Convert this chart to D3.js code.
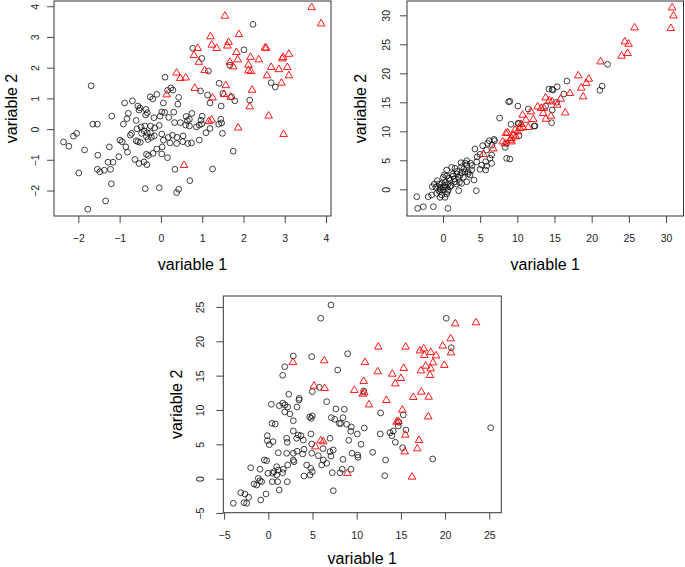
<!DOCTYPE html>
<html>
<head>
<meta charset="utf-8">
<script src="https://cdn.jsdelivr.net/npm/d3@7"></script>
<style>
  body { margin: 0; background: #fff; }
  text { font-family: "Liberation Sans", Arial, Helvetica, sans-serif; }
</style>
</head>
<body>
<div id="chart"></div>
<script>
// panel 1 : groupe noir (cercles) et groupe rouge (triangles)
const p1Red = [
  [3.65,3.96],[3.88,3.43],[1.55,3.68],[1.89,3.08],[1.20,3.01],[1.23,2.74],[1.35,2.63],[1.64,2.83],
  [1.61,2.71],[0.89,2.63],[0.80,2.40],[0.92,2.18],[1.83,2.50],[1.86,2.26],[1.67,2.18],[1.75,2.03],
  [2.17,2.34],[2.37,2.26],[2.52,2.64],[2.55,2.64],[2.12,2.09],[2.12,1.90],[2.18,1.88],[1.06,1.91],
  [0.38,1.83],[0.47,1.65],[0.60,1.67],[2.67,2.01],[2.86,1.94],[2.94,2.29],[2.96,2.34],[3.10,2.44],
  [3.06,2.01],[3.10,1.74],[2.57,1.74],[2.92,1.50],[0.82,1.33],[1.57,1.42],[2.21,1.27],[1.25,1.02],
  [1.53,1.13],[1.69,1.04],[2.15,0.73],[2.61,0.43],[1.23,0.30],[1.16,0.25],[1.87,0.04],[2.97,-0.17],
  [0.56,-1.18],[0.14,1.12]
];
const p1Black = [
  [0.10,1.69],[-1.69,1.41],[0.24,1.34],[0.16,1.26],[0.29,1.27],[0.43,1.03],[-0.26,1.05],[-0.20,0.98],
  [-0.10,1.13],[-0.69,0.92],[-0.88,0.85],[0.06,0.85],[-0.56,0.75],[-0.51,0.69],[-0.53,0.62],[-0.79,0.51],
  [-1.19,0.42],[-0.36,0.64],[-0.37,0.46],[-0.33,0.53],[-0.17,0.37],[-0.82,0.34],[-0.91,0.16],[-0.60,0.28],
  [0.02,0.56],[0.09,0.54],[0.19,0.38],[0.31,0.55],[-0.02,0.42],[-0.04,0.12],[-0.15,0.04],[-0.25,0.10],
  [-0.39,0.10],[-0.48,0.07],[-0.58,0.01],[-0.41,-0.06],[-0.47,-0.14],[-0.33,-0.12],[-0.35,-0.25],[-0.25,-0.12],
  [-0.23,-0.27],[-0.16,-0.22],[-0.31,-0.34],[-0.71,-0.14],[-0.74,-0.20],[-0.99,-0.36],[-0.94,-0.41],[-0.85,-0.58],
  [-0.81,-0.75],[-1.02,-0.90],[-0.60,-0.38],[-0.56,-0.41],[-0.50,-0.43],[0.02,-0.16],[0.06,-0.36],[0.18,-0.27],
  [0.28,-0.20],[0.39,-0.27],[0.38,-0.47],[0.22,-0.45],[0.03,-0.58],[-0.10,-0.65],[-0.19,-0.79],[-0.30,-0.86],
  [-0.35,-0.82],[0.02,-0.81],[0.16,-0.93],[-0.34,-1.16],[-0.63,-0.99],[-0.53,-1.12],[-0.41,-1.07],[-1.25,-0.58],
  [-1.53,-0.85],[-1.85,-0.68],[-1.16,-1.08],[-1.28,-1.08],[-1.22,-1.31],[-1.54,-1.31],[-1.48,-1.39],[-1.37,-1.34],
  [-1.99,-1.43],[-1.65,0.16],[-1.54,0.16],[-2.12,-0.23],[-2.04,-0.14],[-2.36,-0.42],[-2.23,-0.56],[-1.20,-1.78],
  [-1.34,-2.34],[-1.77,-2.61],[-0.38,-1.94],[-0.04,-1.91],[0.34,-1.31],[0.38,-2.07],[0.43,-1.96],
  [2.23,3.41],[0.77,2.63],[0.99,2.30],[1.15,1.89],[1.67,2.08],[2.01,2.58],[1.41,1.49],[0.96,1.24],
  [1.13,1.11],[1.50,1.16],[1.71,1.05],[1.79,0.92],[1.19,0.85],[1.46,0.75],[2.15,0.94],[2.67,1.51],
  [2.77,1.37],[0.41,0.81],[0.61,0.41],[0.75,0.51],[0.69,0.32],[0.64,0.27],[1.00,0.42],[0.97,0.29],
  [0.33,0.21],[0.47,0.21],[0.60,0.13],[0.69,0.10],[0.86,0.07],[0.93,0.13],[0.99,0.17],[1.45,0.32],
  [1.47,0.20],[1.40,0.16],[1.19,0.02],[1.09,-0.12],[1.49,-0.14],[0.54,-0.22],[0.53,-0.41],[0.65,-0.47],
  [0.74,-0.45],[0.93,-0.36],[1.75,-0.72],[1.25,-1.30],[0.70,-1.68]
];

// panel 2
const p2Red = [
  [30.82,31.31],[31.0,29.93],[30.65,27.76],[25.77,27.86],[24.46,25.45],[24.96,25.05],[24.02,22.98],[24.83,23.45],
  [21.20,22.0],[18.19,19.59],[19.62,19.02],[19.26,18.28],[18.59,17.47],[18.86,15.97],[17.07,16.55],[16.44,13.21],
  [15.82,15.57],[13.80,15.79],[14.29,15.28],[14.69,15.10],[15.36,14.53],[12.73,14.24],[13.21,13.97],[13.58,13.97],
  [11.83,13.38],[10.71,12.81],[11.16,11.95],[12.14,12.07],[13.48,13.10],[13.84,12.12],[14.52,12.64],[10.79,10.62],
  [10.04,9.93],[9.45,9.36],[9.23,8.21],[10.48,11.21],[11.47,10.69],[9.81,9.07],[5.42,6.03],[6.76,7.0],
  [8.02,8.21],[8.70,9.76],[9.23,8.79],[9.68,10.22],[10.35,10.52],[9.0,8.5],[8.47,9.66],[8.33,7.86]
];
const p2Black = [
  [22.14,21.55],[16.67,18.67],[14.69,17.24],[14.25,17.29],[15.36,17.69],[14.78,17.12],[21.10,17.07],[21.41,17.81],
  [16.26,16.43],[15.28,15.0],[14.69,13.67],[13.80,14.36],[14.61,11.48],[12.27,10.91],[11.47,13.84],[10.08,14.36],
  [9.0,15.17],[10.17,11.31],[10.22,9.24],[9.0,5.22],[8.83,15.10],[7.62,12.29],[9.14,11.21],[10.12,11.38],
  [12.37,10.91],[6.22,8.38],[6.01,7.93],[6.95,8.38],[6.59,7.64],[8.56,7.93],[8.37,7.24],[4.30,6.95],
  [5.34,7.52],[5.87,6.78],[4.97,6.03],[6.55,5.91],[6.32,5.34],[8.56,5.34],[5.74,4.76],[4.53,4.76],
  [6.55,4.48],[3.19,4.93],[2.42,4.59],[3.72,4.48],[5.20,4.19],[5.87,4.02],[4.97,3.45],[5.74,3.33],
  [3.86,3.33],[3.40,3.03],[2.96,3.03],[2.51,2.86],[1.84,2.64],[1.17,3.79],[0.50,3.33],[1.38,2.29],
  [2.06,2.07],[2.73,2.07],[3.63,2.47],[4.17,1.60],[3.19,1.31],[2.51,1.03],[1.61,1.31],[0.94,1.60],
  [0.50,2.29],[0.04,2.07],[-0.77,1.48],[-0.17,1.03],[0.27,0.74],[0.71,0.91],[0.94,0.45],[0.50,0.34],
  [0.04,0.45],[-0.40,0.34],[-0.94,0.34],[-1.44,0.45],[-1.17,0.91],[-0.50,0.91],[0.04,-0.12],[0.71,-0.12],
  [-0.40,-0.41],[-0.85,-0.69],[-0.17,-0.98],[0.50,-0.81],[0.27,-1.38],[-0.40,-1.38],[2.11,-0.24],[4.48,-0.24],
  [-1.52,-0.98],[-1.98,-1.28],[-3.53,-1.28],[-1.30,-3.0],[-2.65,-3.0],[-3.40,-3.28],[0.67,-3.28],[1.61,3.62],
  [2.51,3.90],[3.19,4.19],[6.85,8.62],
  [0.3,1.2],[0.8,1.9],[1.3,2.6],[1.9,3.1],[2.3,2.4],[1.1,0.6],[-0.3,0.0],[0.6,-0.4],
  [1.5,1.8],[2.8,3.5],[3.4,2.7],[3.9,4.1],[4.6,5.6],[2.2,1.2],[0.2,2.5],[-0.6,-0.2],
  [1.8,0.9],[3.0,4.5]
];

// panel 3
const p3Red = [
  [2.79,16.94],[6.33,17.18],[5.17,13.49],[6.38,13.16],[5.32,4.66],[5.93,5.53],[6.22,5.39],
  [21.15,22.56],[23.50,22.71],[20.63,20.38],[19.73,19.32],[20.67,18.34],[12.44,19.17],[15.54,19.17],[17.16,18.63],
  [17.58,18.92],[18.37,18.40],[17.65,17.96],[18.97,17.90],[18.63,16.88],[17.81,16.40],[18.37,16.01],[17.27,15.72],
  [18.29,15.05],[19.91,16.51],[10.94,16.94],[12.38,15.58],[14.03,15.24],[15.32,16.07],[15.01,14.61],[14.37,13.83],
  [10.79,14.18],[9.73,12.87],[10.68,12.33],[10.86,12.52],[13.35,11.41],[11.39,10.77],[16.40,11.85],[17.31,12.62],
  [18.14,11.89],[15.16,10.0],[18.10,9.02],[14.52,8.25],[14.71,8.36],[15.50,6.36],[17.05,5.59],[16.86,4.37],
  [15.43,3.93],[16.26,0.25],[8.94,0.79]
];
const p3Black = [
  [7.09,25.28],[5.93,23.35],[4.91,17.76],[2.83,17.86],[1.86,16.30],[1.63,15.05],[7.85,15.82],[5.77,13.30],
  [4.98,12.66],[2.31,12.29],[3.51,11.70],[3.47,11.46],[6.61,11.21],[0.34,10.83],[1.24,10.63],[1.63,10.98],
  [1.89,10.73],[2.19,10.44],[1.86,9.71],[2.45,9.42],[3.25,10.44],[7.66,10.15],[8.03,8.06],[7.13,8.88],
  [7.51,8.65],[4.68,8.98],[4.98,9.13],[2.83,8.44],[0.42,8.06],[0.79,7.96],[4.83,6.51],[2.83,6.94],
  [3.39,6.36],[3.70,6.26],[3.21,5.88],[3.96,5.63],[2.08,5.88],[2.15,5.30],[-0.11,6.26],[-0.11,5.53],
  [0.53,5.39],[0.11,4.95],[4.91,5.05],[6.98,5.88],[6.19,4.37],[3.25,3.99],[4.04,4.28],[2.08,3.70],
  [2.83,3.70],[1.13,3.78],[3.89,3.60],[4.91,3.70],[6.98,3.93],[7.35,4.18],[5.66,3.35],[6.22,2.72],
  [7.09,3.30],[2.83,2.72],[2.19,1.99],[2.91,2.47],[4.34,1.99],[6.04,1.99],[6.61,2.24],[4.80,1.51],
  [4.98,1.02],[4.72,0.54],[4.04,0.39],[7.24,0.87],[8.11,0.87],[7.35,-1.75],[-1.99,1.60],[-0.94,1.37],
  [-0.45,2.72],[-0.18,2.62],[-0.03,0.79],[0.50,0.79],[0.64,1.02],[0.95,1.75],[1.13,1.27],[1.63,0.87],
  [0.95,0.54],[0.45,-0.44],[1.06,-0.44],[1.24,-1.64],[2.15,-0.44],[1.70,1.37],[-1.13,0.06],[-0.94,-0.29],
  [-0.75,-0.44],[-1.31,-0.92],[-1.62,-0.77],[-0.26,-2.23],[-0.86,-3.10],[-2.22,-2.71],[-2.64,-2.23],[-2.75,-3.49],
  [-2.44,-3.58],[-3.12,-2.04],[-3.96,-3.58],
  [20.14,23.35],[20.70,19.07],[8.98,18.19],[10.79,12.77],[8.60,10.10],[8.45,8.88],[8.19,8.01],[8.87,7.92],
  [9.39,7.53],[9.32,6.90],[10.07,6.51],[10.86,7.38],[12.71,9.56],[12.67,6.51],[15.27,9.27],[15.58,7.09],
  [14.78,8.21],[14.71,7.67],[14.14,6.94],[13.99,6.26],[14.37,5.30],[15.20,4.51],[10.49,5.01],[9.10,5.59],
  [9.47,3.70],[10.11,3.45],[10.15,3.11],[11.81,3.84],[13.27,2.72],[18.60,2.87],[25.16,7.42],[8.45,2.82],
  [9.36,1.37],[8.37,1.37],[13.17,0.44],[4.86,8.79],[13.77,6.70]
];

const ticks1 = [-2, -1, 0, 1, 2, 3, 4];
const ticks2 = [0, 5, 10, 15, 20, 25, 30];
const ticks3 = [-5, 0, 5, 10, 15, 20, 25];

const svg = d3.select("#chart")
  .append("svg")
  .attr("width", 685)
  .attr("height", 567);

function drawPanel(p) {
  const x = d3.scaleLinear().domain(p.xDomain).range([p.left, p.right]);
  const y = d3.scaleLinear().domain(p.yDomain).range([p.bottom, p.top]);
  const g = svg.append("g");

  // axe X
  const ax = g.append("g")
    .attr("transform", `translate(0,${p.bottom})`)
    .call(d3.axisBottom(x).tickValues(p.xTicks).tickSize(7).tickFormat(d3.format("d")));
  ax.select(".domain").remove();
  ax.selectAll("line").attr("stroke", "#333").attr("stroke-width", 0.9);
  ax.selectAll("text")
    .attr("y", 22.5).attr("dy", "0.35em")
    .style("font-size", "10.5px").attr("fill", "#222");

  // axe Y (étiquettes tournées comme dans R)
  const ay = g.append("g")
    .attr("transform", `translate(${p.left},0)`)
    .call(d3.axisLeft(y).tickValues(p.yTicks).tickSize(7).tickFormat(d3.format("d")));
  ay.select(".domain").remove();
  ay.selectAll("line").attr("stroke", "#333").attr("stroke-width", 0.9);
  ay.selectAll("text")
    .attr("x", 0).attr("dy", "0.35em")
    .attr("text-anchor", "middle")
    .attr("transform", `translate(${-p.yTickOff},0) rotate(-90)`)
    .style("font-size", "10.5px").attr("fill", "#222");

  // cadre
  g.append("rect")
    .attr("x", p.left).attr("y", p.top)
    .attr("width", p.right - p.left).attr("height", p.bottom - p.top)
    .attr("fill", "none").attr("stroke", "#333").attr("stroke-width", 1);

  // points
  g.selectAll(".dot")
    .data(p.black)
    .enter().append("circle")
    .attr("cx", d => x(d[0]))
    .attr("cy", d => y(d[1]))
    .attr("r", 2.9)
    .attr("fill", "none")
    .attr("stroke", "#111")
    .attr("stroke-width", 0.8);

  g.selectAll(".tri")
    .data(p.red)
    .enter().append("path")
    .attr("d", d3.symbol(d3.symbolTriangle, 25))
    .attr("transform", d => `translate(${x(d[0])},${y(d[1])})`)
    .attr("fill", "none")
    .attr("stroke", "#f00")
    .attr("stroke-width", 0.9);

  // titres des axes
  g.append("text")
    .attr("x", (p.left + p.right) / 2)
    .attr("y", p.bottom + p.xTitleOff)
    .attr("dy", "0.35em")
    .attr("text-anchor", "middle")
    .style("font-size", "16px")
    .text("variable 1");

  g.append("text")
    .attr("transform", `translate(${p.yTitleX},${(p.top + p.bottom) / 2}) rotate(-90)`)
    .attr("dy", "0.35em")
    .attr("text-anchor", "middle")
    .style("font-size", "16px")
    .text("variable 2");
}

drawPanel({
  left: 54, right: 331, top: 1, bottom: 216,
  xDomain: [-2.59, 4.12], yDomain: [-2.83, 4.17],
  xTicks: ticks1, yTicks: ticks1,
  yTickOff: 18.5, yTitleX: 11, xTitleOff: 48.5,
  black: p1Black, red: p1Red
});

drawPanel({
  left: 407, right: 683.5, top: 1, bottom: 216,
  xDomain: [-4.84, 32.35], yDomain: [-4.60, 32.47],
  xTicks: ticks2, yTicks: ticks2,
  yTickOff: 21, yTitleX: 360, xTitleOff: 48.5,
  black: p2Black, red: p2Red
});

drawPanel({
  left: 223.3, right: 501.3, top: 296, bottom: 512.7,
  xDomain: [-5.09, 26.36], yDomain: [-4.95, 26.59],
  xTicks: ticks3, yTicks: ticks3,
  yTickOff: 23, yTitleX: 176, xTitleOff: 46,
  black: p3Black, red: p3Red
});
</script>
</body>
</html>
